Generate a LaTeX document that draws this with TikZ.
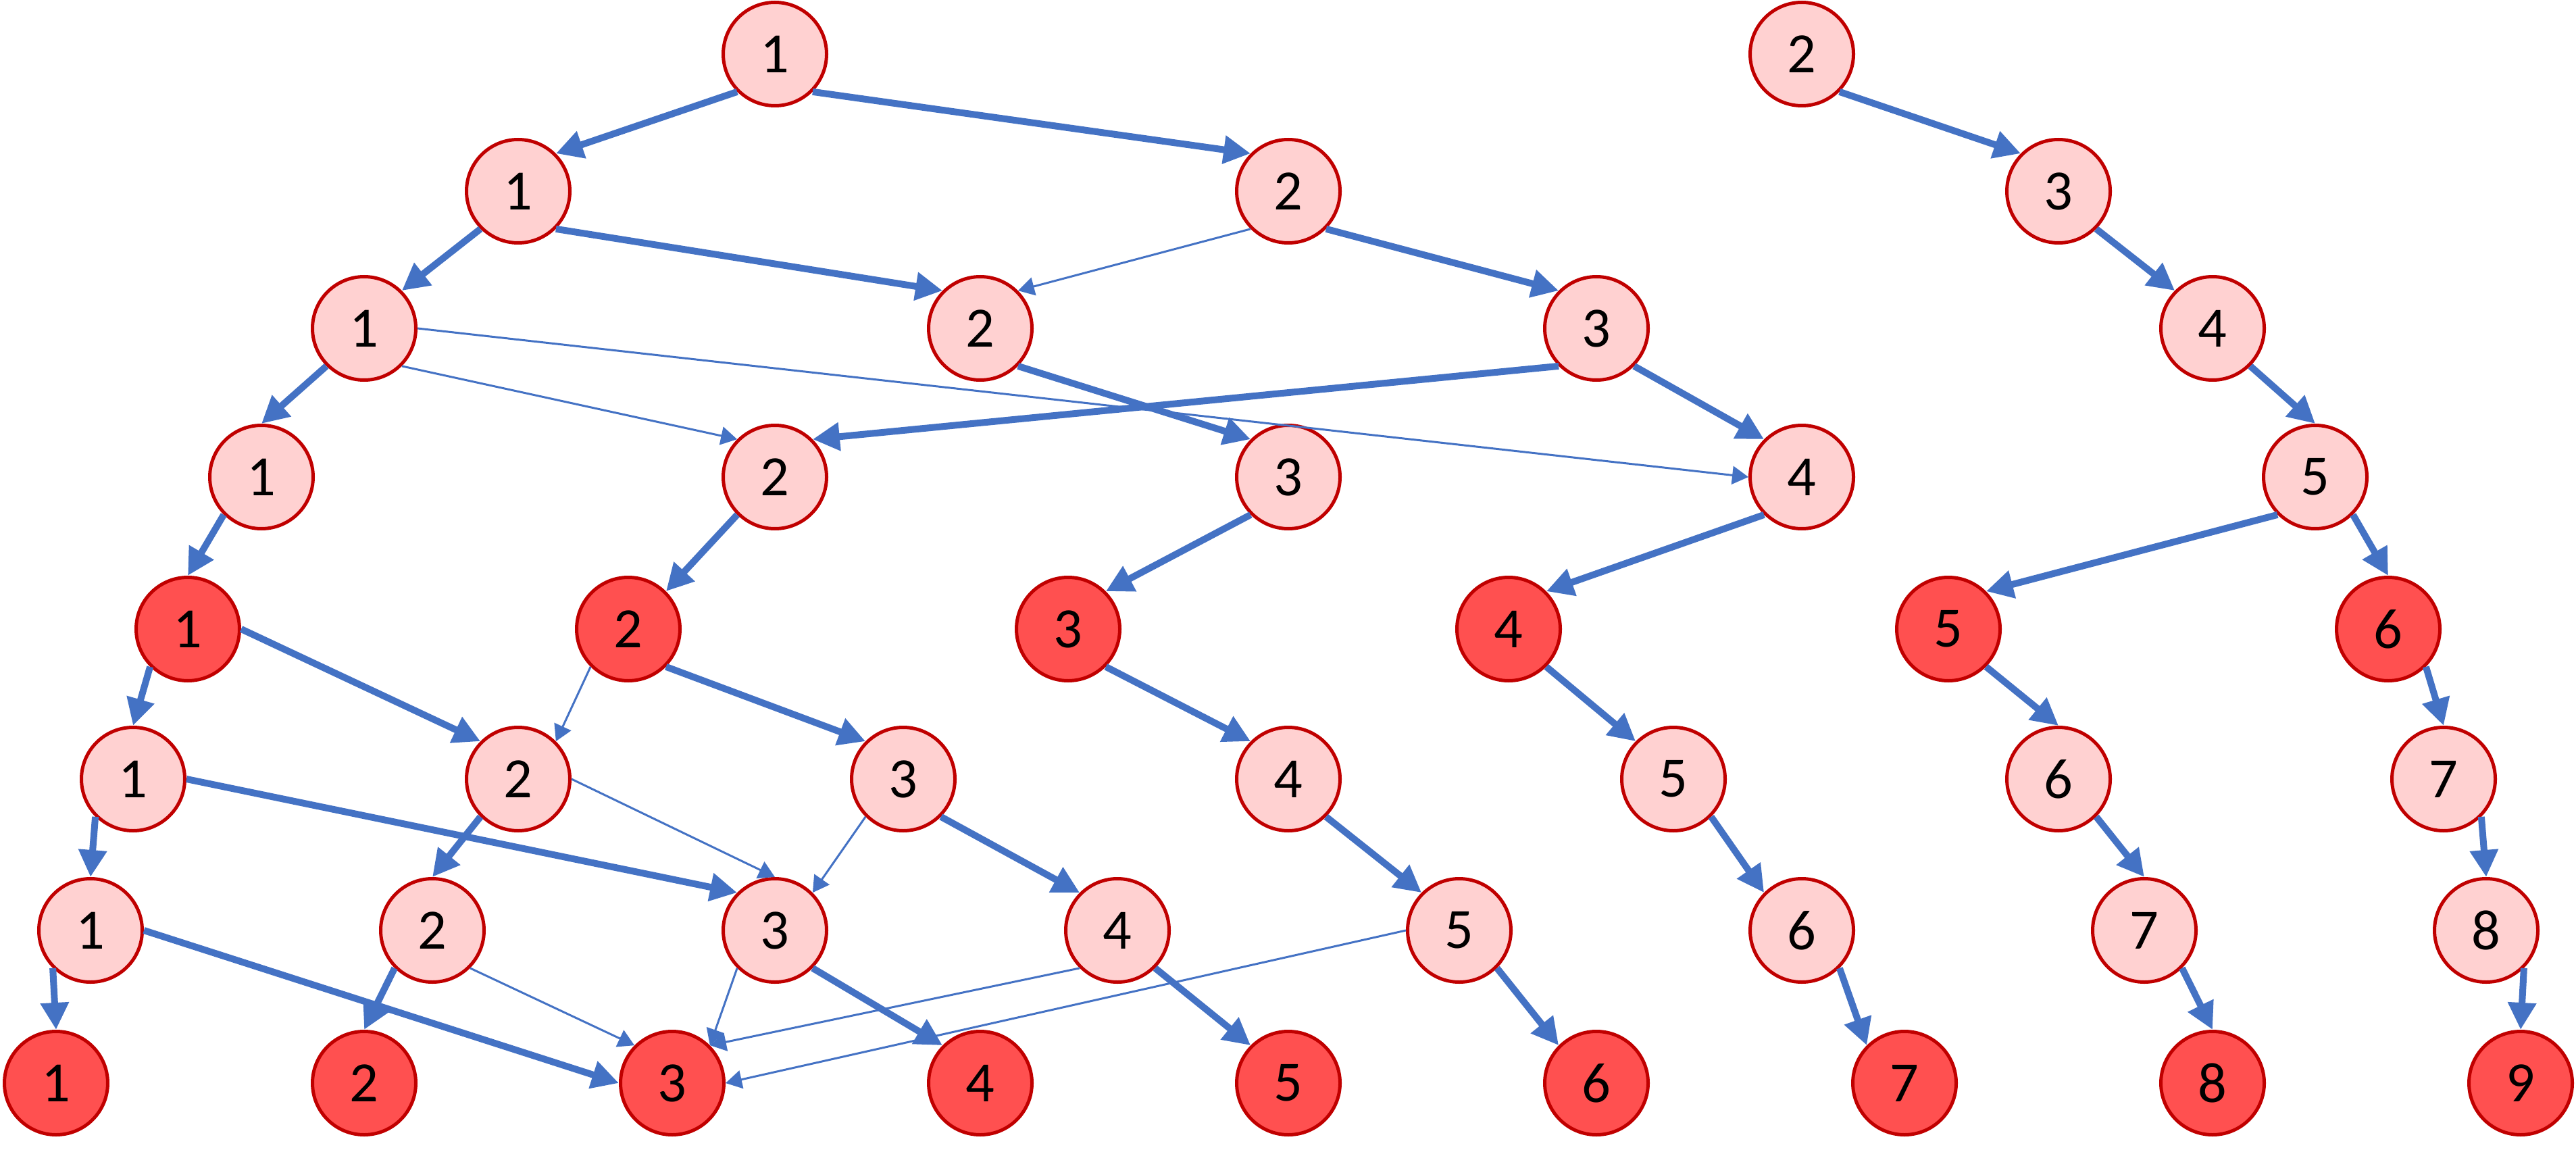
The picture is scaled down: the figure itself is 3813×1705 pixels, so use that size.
\documentclass[tikz,border=0pt]{standalone}
\usepackage{fontspec}
\setmainfont{Carlito}
\usetikzlibrary{arrows.meta}
\definecolor{lightred}{HTML}{FFD1D1}
\definecolor{darkred}{HTML}{FF5050}
\definecolor{rimred}{HTML}{C00000}
\definecolor{edgeblue}{HTML}{4472C4}
\tikzset{
  vtx/.style={circle, draw=rimred, line width=0.5mm, minimum size=15.3mm, inner sep=0pt,
    font=\fontsize{24pt}{28pt}\selectfont, text=black},
  lightv/.style={vtx, fill=lightred},
  darkv/.style={vtx, fill=darkred},
  bold/.style={draw=edgeblue, line width=1mm, -{Triangle[length=4mm,width=4mm]}},
  fine/.style={draw=edgeblue, line width=0.3mm, -{Triangle[length=2.4mm,width=2.7mm]}},
}
\begin{document}
\begin{tikzpicture}[x=0.1mm, y=-0.1mm]
\useasboundingbox (0,0) rectangle (3813,1705);
% row 0
\node[lightv] (n01) at (1147,80) {1};
\node[lightv] (n02) at (2667,80) {2};
% row 1
\node[lightv] (n11) at (767,283) {1};
\node[lightv] (n12) at (1907,283) {2};
\node[lightv] (n13) at (3047,283) {3};
% row 2
\node[lightv] (n21) at (539,486) {1};
\node[lightv] (n22) at (1451,486) {2};
\node[lightv] (n23) at (2363,486) {3};
\node[lightv] (n24) at (3275,486) {4};
% row 3
\node[lightv] (n31) at (387,706) {1};
\node[lightv] (n32) at (1147,706) {2};
\node[lightv] (n33) at (1907,706) {3};
\node[lightv] (n34) at (2667,706) {4};
\node[lightv] (n35) at (3427,706) {5};
% row 4
\node[darkv] (n41) at (278,931) {1};
\node[darkv] (n42) at (930,931) {2};
\node[darkv] (n43) at (1581,931) {3};
\node[darkv] (n44) at (2233,931) {4};
\node[darkv] (n45) at (2884,931) {5};
\node[darkv] (n46) at (3535,931) {6};
% row 5
\node[lightv] (n51) at (197,1153) {1};
\node[lightv] (n52) at (767,1153) {2};
\node[lightv] (n53) at (1337,1153) {3};
\node[lightv] (n54) at (1907,1153) {4};
\node[lightv] (n55) at (2477,1153) {5};
\node[lightv] (n56) at (3047,1153) {6};
\node[lightv] (n57) at (3617,1153) {7};
% row 6
\node[lightv] (n61) at (134,1377) {1};
\node[lightv] (n62) at (640,1377) {2};
\node[lightv] (n63) at (1147,1377) {3};
\node[lightv] (n64) at (1654,1377) {4};
\node[lightv] (n65) at (2160,1377) {5};
\node[lightv] (n66) at (2667,1377) {6};
\node[lightv] (n67) at (3174,1377) {7};
\node[lightv] (n68) at (3680,1377) {8};
% row 7
\node[darkv] (n71) at (83,1603) {1};
\node[darkv] (n72) at (539,1603) {2};
\node[darkv] (n73) at (995,1603) {3};
\node[darkv] (n74) at (1451,1603) {4};
\node[darkv] (n75) at (1907,1603) {5};
\node[darkv] (n76) at (2363,1603) {6};
\node[darkv] (n77) at (2819,1603) {7};
\node[darkv] (n78) at (3275,1603) {8};
\node[darkv] (n79) at (3731,1603) {9};
% edges, left tree
\draw[bold] (n01.south west) -- (n11.north east);
\draw[bold] (n01.south east) -- (n12.north west);
\draw[bold] (n11.south west) -- (n21.north east);
\draw[bold] (n11.south east) -- (n22.north west);
\draw[fine] (n12.south west) -- (n22.north east);
\draw[bold] (n12.south east) -- (n23.north west);
\draw[bold] (n21.south west) -- (n31.north);
\draw[fine] (n21.south east) -- (n32.north west);
\draw[fine] (n21.east) -- (n34.west);
\draw[bold] (n22.south east) -- (n33.north west);
\draw[bold] (n23.south west) -- (n32.north east);
\draw[bold] (n23.south east) -- (n34.north west);
\draw[bold] (n31.south west) -- (n41.north);
\draw[bold] (n32.south west) -- (n42.north east);
\draw[bold] (n33.south west) -- (n43.north east);
\draw[bold] (n34.south west) -- (n44.north east);
\draw[bold] (n41.south west) -- (n51.north);
\draw[bold] (n41.east) -- (n52.north west);
\draw[fine] (n42.south west) -- (n52.north east);
\draw[bold] (n42.south east) -- (n53.north west);
\draw[bold] (n43.south east) -- (n54.north west);
\draw[bold] (n44.south east) -- (n55.north west);
\draw[bold] (n51.south west) -- (n61.north);
\draw[bold] (n51.east) -- (n63.north west);
\draw[bold] (n52.south west) -- (n62.north);
\draw[fine] (n52.east) -- (n63.north);
\draw[fine] (n53.south west) -- (n63.north east);
\draw[bold] (n53.south east) -- (n64.north west);
\draw[bold] (n54.south east) -- (n65.north west);
\draw[bold] (n55.south east) -- (n66.north west);
\draw[bold] (n61.south west) -- (n71.north);
\draw[bold] (n61.east) -- (n73.west);
\draw[bold] (n62.south west) -- (n72.north);
\draw[fine] (n62.south east) -- (n73.north west);
\draw[fine] (n63.south west) -- (n73.north east);
\draw[bold] (n63.south east) -- (n74.north west);
\draw[fine] (n64.south west) -- (n73.north east);
\draw[bold] (n64.south east) -- (n75.north west);
\draw[fine] (n65.west) -- (n73.east);
\draw[bold] (n65.south east) -- (n76.north west);
\draw[bold] (n66.south east) -- (n77.north west);
% edges, right tree
\draw[bold] (n02.south east) -- (n13.north west);
\draw[bold] (n13.south east) -- (n24.north west);
\draw[bold] (n24.south east) -- (n35.north);
\draw[bold] (n35.south west) -- (n45.north east);
\draw[bold] (n35.south east) -- (n46.north);
\draw[bold] (n45.south east) -- (n56.north);
\draw[bold] (n46.south east) -- (n57.north);
\draw[bold] (n56.south east) -- (n67.north);
\draw[bold] (n57.south east) -- (n68.north);
\draw[bold] (n67.south east) -- (n78.north);
\draw[bold] (n68.south east) -- (n79.north);
\end{tikzpicture}
\end{document}
